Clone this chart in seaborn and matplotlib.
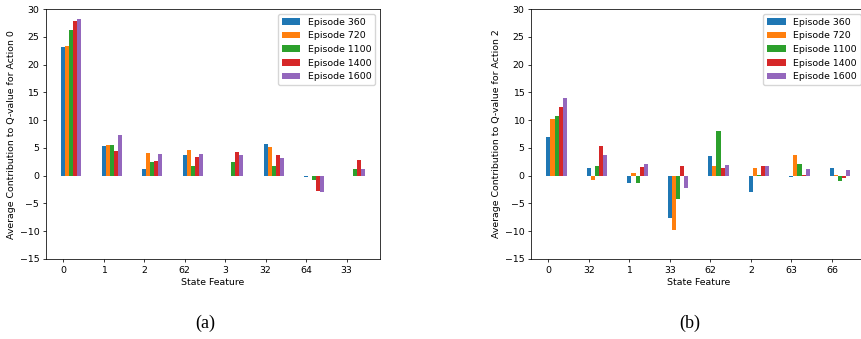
import matplotlib
matplotlib.use('Agg')
import matplotlib.pyplot as plt
import seaborn as sns
import pandas as pd

episodes = ['Episode 360', 'Episode 720', 'Episode 1100', 'Episode 1400', 'Episode 1600']

features_a = ['0', '1', '2', '62', '3', '32', '64', '33']
values_a = {
    'Episode 360':  [23.1, 5.3, 1.2, 3.8, 0.0, 5.7, -0.2, 0.0],
    'Episode 720':  [23.3, 5.5, 4.1, 4.6, 0.0, 5.2, 0.0, 0.0],
    'Episode 1100': [26.2, 5.5, 2.4, 1.7, 2.4, 1.7, -0.8, 1.2],
    'Episode 1400': [27.9, 4.4, 2.6, 3.4, 4.3, 3.7, -2.7, 2.8],
    'Episode 1600': [28.2, 7.3, 4.0, 3.9, 3.7, 3.2, -2.9, 1.2],
}

features_b = ['0', '32', '1', '33', '62', '2', '63', '66']
values_b = {
    'Episode 360':  [7.0, 1.4, -1.4, -7.7, 3.5, -2.9, -0.2, 1.4],
    'Episode 720':  [10.2, -0.8, 0.4, -9.8, 1.8, 1.4, 3.8, 0.1],
    'Episode 1100': [10.7, 1.8, -1.4, -4.2, 8.0, 0.2, 2.1, -0.9],
    'Episode 1400': [12.3, 5.4, 1.5, 1.8, 1.4, 1.7, 0.1, -0.4],
    'Episode 1600': [14.0, 3.8, 2.1, -2.2, 2.0, 1.7, 1.2, 1.1],
}

FS = 6.75
plt.rcParams.update({
    'font.size': FS,
    'axes.linewidth': 0.55,
    'xtick.major.width': 0.55,
    'ytick.major.width': 0.55,
    'xtick.major.size': 2.4,
    'ytick.major.size': 2.4,
    'xtick.major.pad': 2.4,
    'ytick.major.pad': 2.4,
    'axes.labelpad': 2.7,
})


def to_long(features, values):
    rows = []
    for ep in episodes:
        for f, v in zip(features, values[ep]):
            rows.append({'feature': f, 'value': v, 'episode': ep})
    return pd.DataFrame(rows)


def draw_panel(ax, features, values, action):
    df = to_long(features, values)
    sns.barplot(data=df, x='feature', y='value', hue='episode', order=features,
                hue_order=episodes, palette='tab10', saturation=1, width=0.5,
                gap=0, linewidth=0, errorbar=None, ax=ax)
    n = len(features)
    ax.set_xticks([i - 0.2 for i in range(n)])
    ax.set_xticklabels(features)
    ax.set_xlim(-0.625, n - 1 + 0.625)
    ax.set_ylim(-15, 30)
    ax.set_yticks(range(-15, 31, 5))
    ax.set_xlabel('State Feature')
    ax.set_ylabel(f'Average Contribution to Q-value for Action {action}')
    ax.legend(loc='upper right', fontsize=FS, title=None, frameon=True,
              handlelength=2.0)


fig = plt.figure(figsize=(8.61, 3.39), dpi=100)
ax1 = fig.add_axes([0.0534, 0.236, 0.388, 0.737])
ax2 = fig.add_axes([0.617, 0.236, 0.388, 0.737])

draw_panel(ax1, features_a, values_a, 0)
draw_panel(ax2, features_b, values_b, 2)

fig.text(205 / 861, 1 - 323 / 339, '(a)', ha='center', va='center',
         family='Liberation Serif', fontsize=13)
fig.text(690 / 861, 1 - 323 / 339, '(b)', ha='center', va='center',
         family='Liberation Serif', fontsize=13)

fig.savefig('out.png', dpi=100)
